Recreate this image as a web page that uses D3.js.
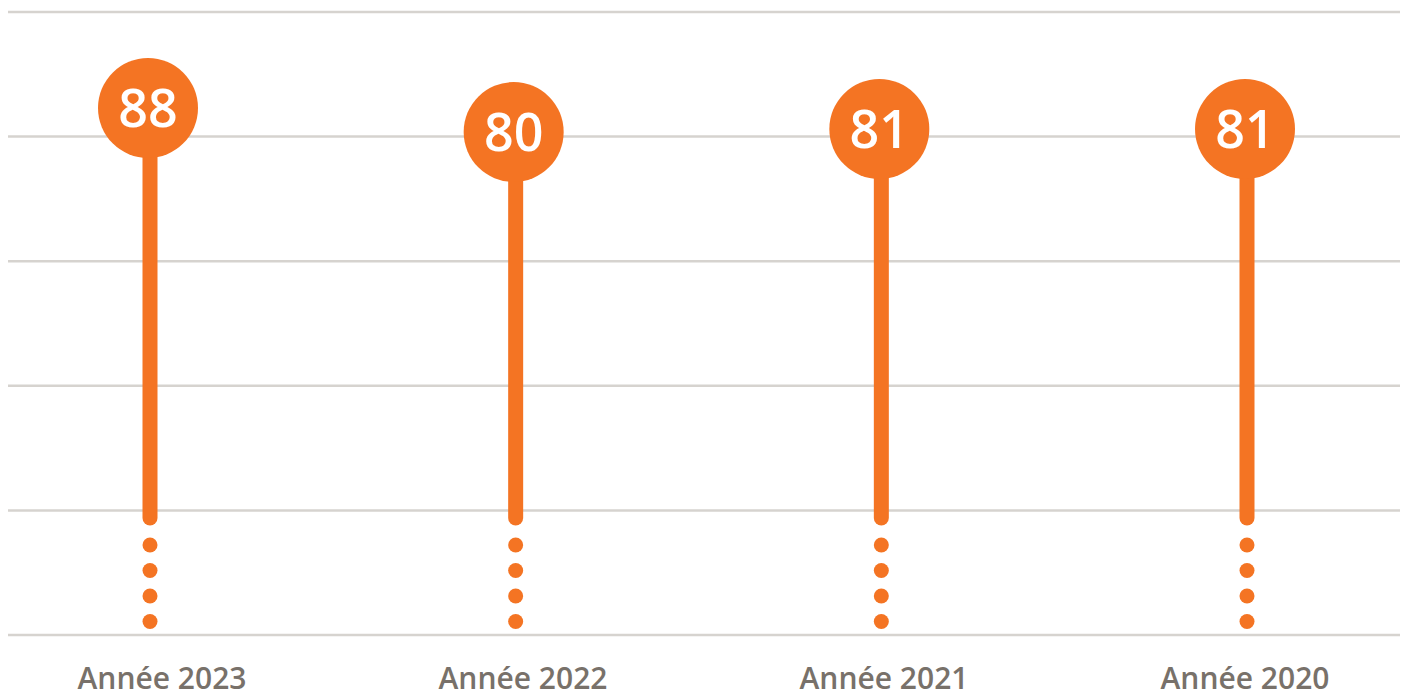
<!DOCTYPE html>
<html>
<head>
<meta charset="utf-8">
<script src="https://cdn.jsdelivr.net/npm/d3@7"></script>
<style>
  body { margin: 0; background: #fff; }
  svg { display: block; }
</style>
</head>
<body>
<div id="chart"></div>
<script>
const categories = ["Année 2023", "Année 2022", "Année 2021", "Année 2020"];
const values = [88, 80, 81, 81];
const gridCount = 6;

const W = 1406, H = 698;
const orange = "#f47423";
const breakY = 518; // where the solid stem stops and the dotted break starts

const svg = d3.select("#chart").append("svg")
  .attr("width", W)
  .attr("height", H);

// horizontal grid lines
const gridY = d3.scaleLinear().domain([0, gridCount - 1]).range([635, 12]);
svg.append("g")
  .selectAll("line")
  .data(d3.range(gridCount))
  .enter()
  .append("line")
  .attr("x1", 8)
  .attr("x2", 1400)
  .attr("y1", (d) => gridY(d))
  .attr("y2", (d) => gridY(d))
  .attr("stroke", "#d6d3cf")
  .attr("stroke-width", 2.5);

const x = d3.scalePoint().domain(categories).range([150, 1247]);
const xLabel = d3.scalePoint().domain(categories).range([162, 1245]);
const y = d3.scaleLinear().domain([80, 88]).range([132, 108]);

const lolli = svg.append("g")
  .selectAll("g")
  .data(categories.map((c, i) => ({ cat: c, value: values[i] })))
  .enter()
  .append("g")
  .attr("transform", (d) => `translate(${x(d.cat)},0)`);

// stem
lolli.append("line")
  .attr("y1", (d) => y(d.value))
  .attr("y2", breakY)
  .attr("stroke", orange)
  .attr("stroke-width", 15)
  .attr("stroke-linecap", "round");

// dotted break
lolli.selectAll("circle.dot")
  .data([0, 1, 2, 3])
  .enter()
  .append("circle")
  .attr("class", "dot")
  .attr("cy", (d) => 545 + d * 25.5)
  .attr("r", 7.5)
  .attr("fill", orange);

// head
lolli.append("circle")
  .attr("cx", -2)
  .attr("cy", (d) => y(d.value))
  .attr("r", 50)
  .attr("fill", orange);

lolli.append("text")
  .attr("x", -2)
  .attr("y", (d) => y(d.value))
  .attr("dy", "0.36em")
  .attr("text-anchor", "middle")
  .attr("fill", "#fff")
  .style("font-family", "'Open Sans', sans-serif")
  .style("font-weight", 600)
  .style("font-size", "52px")
  .text((d) => d.value);

// category labels
svg.append("g")
  .selectAll("text")
  .data(categories)
  .enter()
  .append("text")
  .attr("x", (d) => xLabel(d))
  .attr("y", 689)
  .attr("text-anchor", "middle")
  .attr("fill", "#78716a")
  .style("font-family", "'Open Sans', sans-serif")
  .style("font-weight", 600)
  .style("font-size", "30px")
  .text((d) => d);
</script>
</body>
</html>
